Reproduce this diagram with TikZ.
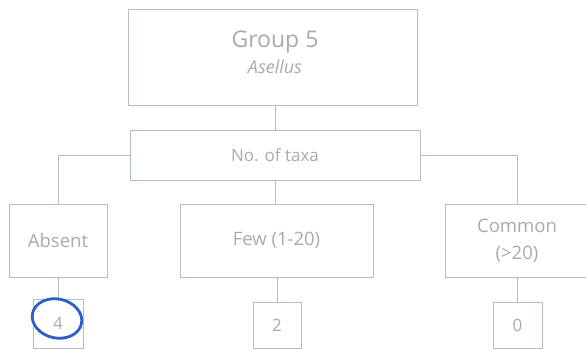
\documentclass[tikz,border=0pt]{standalone}
\usepackage{fontspec}
\setmainfont{Open Sans}
\usetikzlibrary{calc}
\definecolor{linec}{RGB}{180,192,180}
\definecolor{textc}{RGB}{168,172,168}
\definecolor{penblue}{RGB}{45,95,200}
\tikzset{
  box/.style={draw=linec, line width=1pt, rectangle, inner sep=0pt, text=textc},
  conn/.style={draw=linec, line width=1pt},
  lbl/.style={text=textc, inner sep=0pt, font=\fontsize{18}{27}\selectfont, align=center}
}
\begin{document}
\begin{tikzpicture}[x=1pt,y=-1pt]
\fill[white] (0,0) rectangle (586,350);
\useasboundingbox (0,0) rectangle (586,350);
\clip (0,0) rectangle (586,350);
\node[box, minimum width=289pt, minimum height=96pt] (group) at (272.5,58) {};
\node[lbl, font=\fontsize{23}{27}\selectfont] (gtitle) at (275,42) {Group 5};
\node[lbl, font=\fontsize{18}{20}\selectfont\itshape] (gsub) at (275,67) {Asellus};
\node[box, minimum width=290pt, minimum height=49pt, font=\fontsize{17}{20}\selectfont] (taxa) at (275,155.5) {No. of taxa};
\node[box, minimum width=98pt, minimum height=73pt, font=\fontsize{18.5}{27}\selectfont] (absent) at (58,240.5) {Absent};
\node[box, minimum width=193pt, minimum height=73pt, font=\fontsize{18.5}{27}\selectfont] (few) at (276.5,240.5) {Few (1-20)};
\node[box, minimum width=144pt, minimum height=73pt, font=\fontsize{18.5}{27}\selectfont, align=center] (common) at (517,240.5) {Common\\(>20)};
\node[box, minimum width=50pt, minimum height=49pt, font=\fontsize{17}{20}\selectfont] (n4) at (58,323.5) {4};
\node[box, minimum width=48pt, minimum height=46pt, font=\fontsize{17}{20}\selectfont] (n2) at (277,325) {2};
\node[box, minimum width=49pt, minimum height=46pt, font=\fontsize{17}{20}\selectfont] (n0) at (517.5,325) {0};
\draw[conn] (group.south -| taxa.north) -- (taxa.north);
\draw[conn] (taxa.west) -| (absent.north);
\draw[conn] (taxa.east) -| (common.north);
\draw[conn] (taxa.south) -- (taxa.south |- few.north);
\draw[conn] (absent.south) -- (n4.north);
\draw[conn] (n2.north |- few.south) -- (n2.north);
\draw[conn] (common.south) -- (common.south |- n0.north);
\draw[penblue, line width=2.8pt, line cap=round] (n4.center) ++(-1,-5) ellipse [x radius=25pt, y radius=19.5pt, rotate=-12];
\end{tikzpicture}
\end{document}
